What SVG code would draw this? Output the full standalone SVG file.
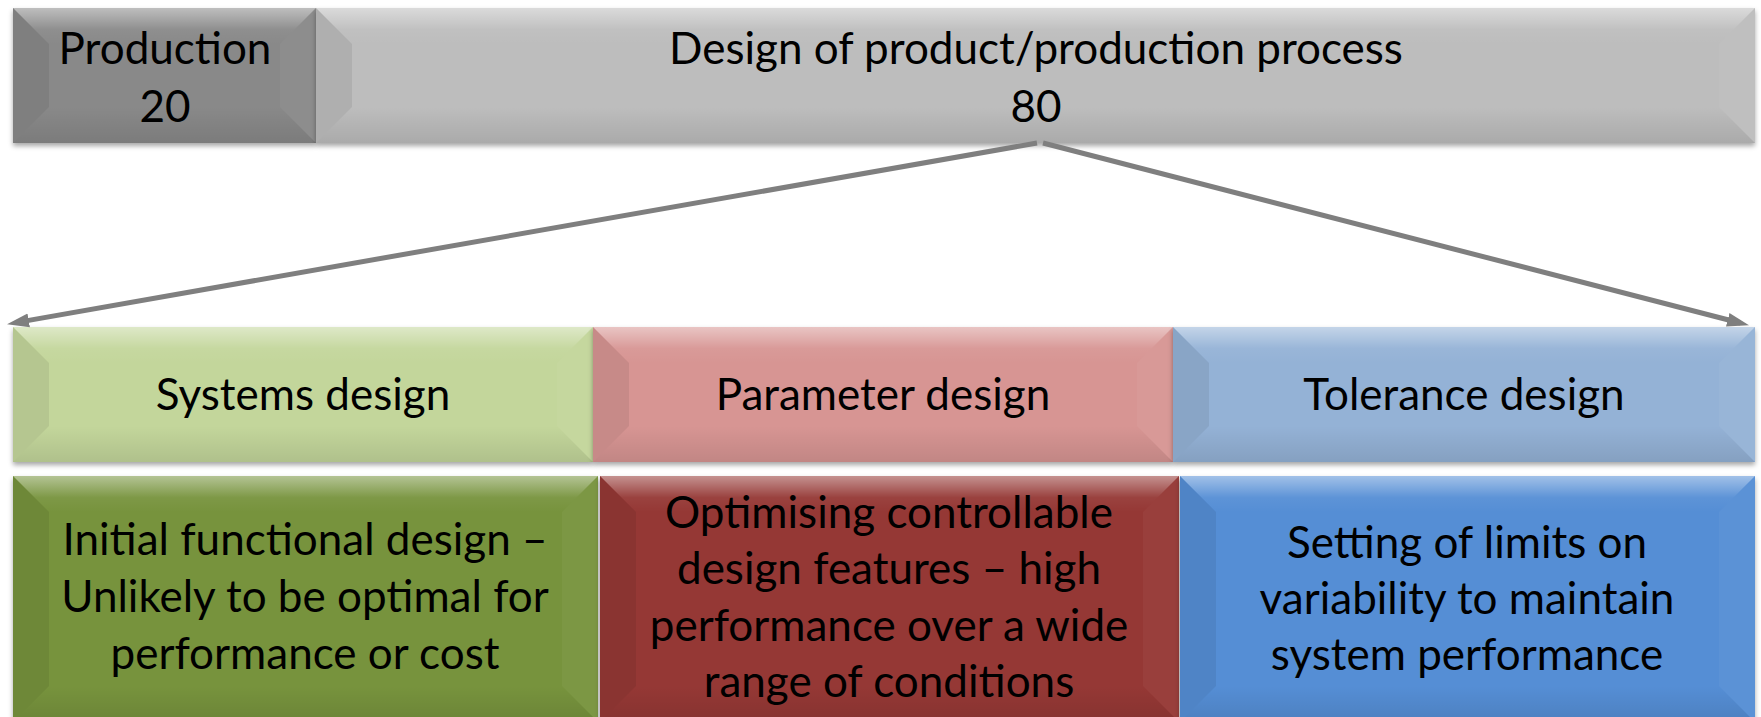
<svg xmlns="http://www.w3.org/2000/svg" width="1761" height="717" viewBox="0 0 1761 717">
  <defs>
    <style>
      .lbl { font-family: Lato, "Liberation Sans", sans-serif; font-size: 44px; fill: #000; text-anchor: middle; }
      .ftop { fill: url(#gTop); }
      .fbot { fill: url(#gBot); }
      .fleft { fill: #000; fill-opacity: 0.07; }
      .fright { fill: #fff; fill-opacity: 0.04; }
      .base { filter: url(#shadow); }
      .conn { stroke: #7f7f7f; stroke-width: 5; fill: none; marker-end: url(#arrow); }
    </style>
    <linearGradient id="gTop" x1="0" y1="0" x2="0" y2="1">
      <stop offset="0" stop-color="#fff" stop-opacity="0.45"/>
      <stop offset="0.6" stop-color="#fff" stop-opacity="0.05"/>
      <stop offset="1" stop-color="#fff" stop-opacity="0"/>
    </linearGradient>
    <linearGradient id="gBot" x1="0" y1="0" x2="0" y2="1">
      <stop offset="0" stop-color="#000" stop-opacity="0"/>
      <stop offset="1" stop-color="#000" stop-opacity="0.1"/>
    </linearGradient>
    <filter id="shadow" x="-5%" y="-10%" width="110%" height="130%">
      <feDropShadow dx="0" dy="3" stdDeviation="2.5" flood-color="#000" flood-opacity="0.35"/>
    </filter>
    <marker id="arrow" markerUnits="userSpaceOnUse" markerWidth="22" markerHeight="16" viewBox="0 0 22 16" refX="13" refY="8" orient="auto">
      <path d="M0,1 L22,8 L0,15 z" fill="#7f7f7f"/>
    </marker>
  </defs>

  <g id="production">
    <rect class="base" x="13" y="8" width="303" height="135" fill="#898989"/>
    <polygon class="ftop" points="13,8 316,8 280,44 49,44"/>
    <polygon class="fbot" points="13,143 316,143 280,107 49,107"/>
    <polygon class="fleft" points="13,8 49,44 49,107 13,143"/>
    <polygon class="fright" points="316,8 280,44 280,107 316,143"/>
    <text class="lbl" x="165" y="64">Production</text>
    <text class="lbl" x="165" y="122">20</text>
  </g>

  <g id="design">
    <rect class="base" x="316" y="8" width="1439" height="135" fill="#bdbdbd"/>
    <polygon class="ftop" points="316,8 1755,8 1719,44 352,44"/>
    <polygon class="fbot" points="316,143 1755,143 1719,107 352,107"/>
    <polygon class="fleft" points="316,8 352,44 352,107 316,143"/>
    <polygon class="fright" points="1755,8 1719,44 1719,107 1755,143"/>
    <text class="lbl" x="1036" y="64">Design of product/production process</text>
    <text class="lbl" x="1036" y="122">80</text>
  </g>

  <g id="systems">
    <rect class="base" x="13" y="327" width="580" height="135" fill="#c3d69b"/>
    <polygon class="ftop" points="13,327 593,327 557,363 49,363"/>
    <polygon class="fbot" points="13,462 593,462 557,426 49,426"/>
    <polygon class="fleft" points="13,327 49,363 49,426 13,462"/>
    <polygon class="fright" points="593,327 557,363 557,426 593,462"/>
    <text class="lbl" x="303" y="410">Systems design</text>
  </g>

  <g id="parameter">
    <rect class="base" x="593" y="327" width="580" height="135" fill="#d79593"/>
    <polygon class="ftop" points="593,327 1173,327 1137,363 629,363"/>
    <polygon class="fbot" points="593,462 1173,462 1137,426 629,426"/>
    <polygon class="fleft" points="593,327 629,363 629,426 593,462"/>
    <polygon class="fright" points="1173,327 1137,363 1137,426 1173,462"/>
    <text class="lbl" x="883" y="410">Parameter design</text>
  </g>

  <g id="tolerance">
    <rect class="base" x="1173" y="327" width="582" height="135" fill="#94b2d6"/>
    <polygon class="ftop" points="1173,327 1755,327 1719,363 1209,363"/>
    <polygon class="fbot" points="1173,462 1755,462 1719,426 1209,426"/>
    <polygon class="fleft" points="1173,327 1209,363 1209,426 1173,462"/>
    <polygon class="fright" points="1755,327 1719,363 1719,426 1755,462"/>
    <text class="lbl" x="1464" y="410">Tolerance design</text>
  </g>

  <g id="systems-desc">
    <rect class="base" x="13" y="476" width="585" height="246" fill="#77933c"/>
    <polygon class="ftop" points="13,476 598,476 562,512 49,512"/>
    <polygon class="fbot" points="13,722 598,722 562,686 49,686"/>
    <polygon class="fleft" points="13,476 49,512 49,686 13,722"/>
    <polygon class="fright" points="598,476 562,512 562,686 598,722"/>
    <text class="lbl" x="305" y="555">Initial functional design –</text>
    <text class="lbl" x="305" y="612">Unlikely to be optimal for</text>
    <text class="lbl" x="305" y="669">performance or cost</text>
  </g>

  <g id="parameter-desc">
    <rect class="base" x="600" y="476" width="579" height="246" fill="#953735"/>
    <polygon class="ftop" points="600,476 1179,476 1143,512 636,512"/>
    <polygon class="fbot" points="600,722 1179,722 1143,686 636,686"/>
    <polygon class="fleft" points="600,476 636,512 636,686 600,722"/>
    <polygon class="fright" points="1179,476 1143,512 1143,686 1179,722"/>
    <text class="lbl" x="889" y="528">Optimising controllable</text>
    <text class="lbl" x="889" y="584">design features – high</text>
    <text class="lbl" x="889" y="641">performance over a wide</text>
    <text class="lbl" x="889" y="697">range of conditions</text>
  </g>

  <g id="tolerance-desc">
    <rect class="base" x="1180" y="476" width="575" height="246" fill="#558ed5"/>
    <polygon class="ftop" points="1180,476 1755,476 1719,512 1216,512"/>
    <polygon class="fbot" points="1180,722 1755,722 1719,686 1216,686"/>
    <polygon class="fleft" points="1180,476 1216,512 1216,686 1180,722"/>
    <polygon class="fright" points="1755,476 1719,512 1719,686 1755,722"/>
    <text class="lbl" x="1467" y="558">Setting of limits on</text>
    <text class="lbl" x="1467" y="614">variability to maintain</text>
    <text class="lbl" x="1467" y="670">system performance</text>
  </g>

  <g id="connectors">
    <line class="conn" x1="1037" y1="143" x2="15.9" y2="322.6"/>
    <line class="conn" x1="1043" y1="143" x2="1740.3" y2="323"/>
  </g>
</svg>
